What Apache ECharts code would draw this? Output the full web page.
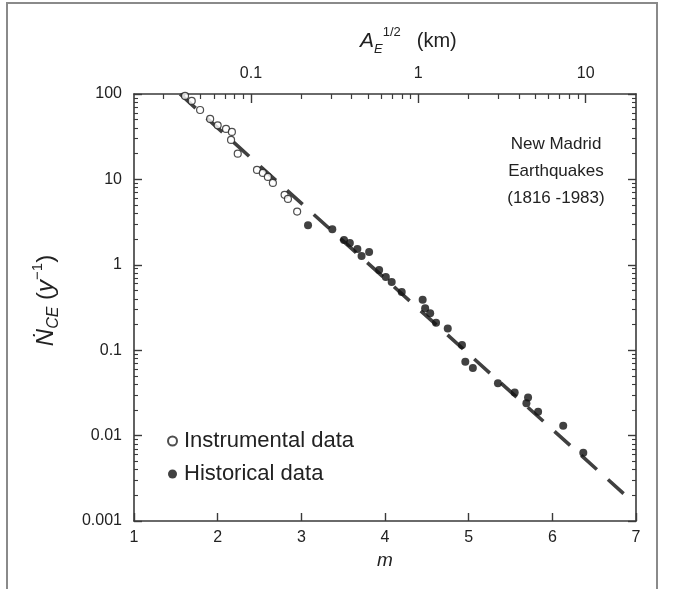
<!DOCTYPE html>
<html><head><meta charset="utf-8">
<script src="https://cdn.jsdelivr.net/npm/echarts@6/dist/echarts.min.js"></script>
<style>html,body{margin:0;padding:0;background:#fff}#c{width:682px;height:589px}</style>
</head><body><div id="c"></div>
<script>
// ---- data (m = magnitude, N = cumulative rate per year) ----
const instrumentalM = [1.61, 1.69, 1.79, 1.91, 2.00, 2.10, 2.17, 2.16, 2.24, 2.47, 2.54, 2.60, 2.66, 2.80, 2.84, 2.95];
const instrumentalN = [95, 83, 65, 51, 43, 39, 36, 29, 20, 12.9, 11.9, 10.7, 9.1, 6.6, 5.9, 4.2];
const historicalM = [3.08, 3.37, 3.51, 3.58, 3.67, 3.72, 3.81, 3.93, 4.01, 4.08, 4.20, 4.45, 4.48, 4.54, 4.61, 4.75, 4.92, 4.96, 5.05, 5.35, 5.55, 5.71, 5.69, 5.83, 6.13, 6.37];
const historicalN = [2.9, 2.6, 1.95, 1.8, 1.53, 1.27, 1.41, 0.87, 0.72, 0.63, 0.48, 0.39, 0.31, 0.27, 0.21, 0.18, 0.115, 0.073, 0.062, 0.041, 0.032, 0.028, 0.024, 0.019, 0.013, 0.0063];
const fitM = [1.55, 6.9];
const fitN = [100, 0.0019];
// ---- axes ----
const mTicks = [1, 2, 3, 4, 5, 6, 7];
const nTicks = [0.001, 0.01, 0.1, 1, 10, 100];
const aTicks = [0.1, 1, 10];
const mRange = [1, 7];
const nRange = [0.001, 100];
const aRange = [0.02, 20];

function minorLog(lo, hi) {
  const out = [];
  for (let d = Math.floor(Math.log10(lo)) ; d <= Math.ceil(Math.log10(hi)); d++) {
    for (let k = 2; k <= 9; k++) {
      const v = parseFloat((k * Math.pow(10, d)).toPrecision(3));
      if (v > lo * 1.0001 && v < hi * 0.9999) out.push(v);
    }
  }
  return out;
}
const fmt = v => String(parseFloat(Number(v).toPrecision(3)));
const zip = (a, b) => a.map((x, i) => [x, b[i]]);

const FONT = 'Liberation Sans, Arial, Helvetica, sans-serif';
const AX = '#3a3a3a';
const TXT = '#222';

const chart = echarts.init(document.getElementById('c'), null, {renderer: 'canvas'});
const lineStyle = {color: AX, width: 1.6};
chart.setOption({
  animation: false,
  backgroundColor: '#fff',
  grid: {left: 134, right: 46, top: 94, bottom: 68, containLabel: false},
  xAxis: [
    {type: 'value', position: 'bottom', min: mRange[0], max: mRange[1], interval: 1,
     axisLine: {show: true, lineStyle},
     axisTick: {show: true, inside: true, length: 8, lineStyle: {color: AX, width: 1.4}, customValues: mTicks},
     axisLabel: {fontFamily: FONT, fontSize: 16, color: TXT, margin: 9, customValues: mTicks},
     splitLine: {show: false},
     name: 'm', nameLocation: 'middle', nameGap: 25,
     nameTextStyle: {fontFamily: FONT, fontSize: 19, fontStyle: 'italic', color: TXT}},
    {type: 'log', position: 'top', logBase: 10, min: aRange[0], max: aRange[1],
     axisLine: {show: true, lineStyle},
     axisTick: {show: true, inside: true, length: 9, lineStyle: {color: AX, width: 1.4}, customValues: aTicks},
     axisLabel: {fontFamily: FONT, fontSize: 16, color: TXT, margin: 12, customValues: aTicks, formatter: fmt},
     splitLine: {show: false}},
    {type: 'log', position: 'top', logBase: 10, min: aRange[0], max: aRange[1],
     axisLine: {show: false},
     axisTick: {show: true, inside: true, length: 5, lineStyle: {color: AX, width: 1.2}, customValues: minorLog(aRange[0], aRange[1])},
     axisLabel: {show: false}, splitLine: {show: false}}
  ],
  yAxis: [
    {type: 'log', position: 'left', logBase: 10, min: nRange[0], max: nRange[1],
     axisLine: {show: true, lineStyle},
     axisTick: {show: true, inside: true, length: 8, lineStyle: {color: AX, width: 1.4}, customValues: nTicks},
     axisLabel: {fontFamily: FONT, fontSize: 16, color: TXT, margin: 12, customValues: nTicks, formatter: fmt},
     splitLine: {show: false},
     name: '{n|Ṅ}{sub|CE}{r| (}{n|y}{sup|−1}{r|)}', nameLocation: 'middle', nameGap: 72, nameRotate: 90,
     nameTextStyle: {fontFamily: FONT, fontSize: 24, color: TXT, padding: [0, 0, 0, 14],
       rich: {
         n: {fontFamily: FONT, fontSize: 24, fontStyle: 'italic', color: TXT, lineHeight: 32},
         r: {fontFamily: FONT, fontSize: 24, color: TXT, lineHeight: 32},
         sub: {fontFamily: FONT, fontSize: 16, fontStyle: 'italic', color: TXT, lineHeight: 16, verticalAlign: 'bottom'},
         sup: {fontFamily: FONT, fontSize: 15, color: TXT, lineHeight: 16, verticalAlign: 'top'}
       }}},
    {type: 'log', position: 'left', logBase: 10, min: nRange[0], max: nRange[1],
     axisLine: {show: false},
     axisTick: {show: true, inside: true, length: 4, lineStyle: {color: AX, width: 1.1}, customValues: minorLog(nRange[0], nRange[1])},
     axisLabel: {show: false}, splitLine: {show: false}},
    {type: 'log', position: 'right', logBase: 10, min: nRange[0], max: nRange[1],
     axisLine: {show: true, lineStyle},
     axisTick: {show: true, inside: true, length: 8, lineStyle: {color: AX, width: 1.4}, customValues: nTicks},
     axisLabel: {show: false}, splitLine: {show: false}},
    {type: 'log', position: 'right', logBase: 10, min: nRange[0], max: nRange[1],
     axisLine: {show: false},
     axisTick: {show: true, inside: true, length: 4, lineStyle: {color: AX, width: 1.1}, customValues: minorLog(nRange[0], nRange[1])},
     axisLabel: {show: false}, splitLine: {show: false}}
  ],
  legend: {
    data: ['Instrumental data', 'Historical data'],
    orient: 'vertical', left: 162, top: 425, itemGap: 11,
    itemWidth: 9, itemHeight: 9,
    textStyle: {fontFamily: FONT, fontSize: 22, color: TXT, padding: [0, 0, 0, 2]}
  },
  series: [
    {name: 'fit', type: 'line', xAxisIndex: 0, yAxisIndex: 0, data: zip(fitM, fitN),
     symbol: 'none', silent: true, z: 1,
     lineStyle: {color: '#404040', width: 3.6, type: [21, 15], cap: 'butt'}},
    {name: 'Instrumental data', type: 'scatter', xAxisIndex: 0, yAxisIndex: 0,
     data: zip(instrumentalM, instrumentalN), symbol: 'circle', symbolSize: 7, z: 3,
     itemStyle: {color: '#fff', borderColor: '#222', borderWidth: 1.2}},
    {name: 'Historical data', type: 'scatter', xAxisIndex: 0, yAxisIndex: 0,
     data: zip(historicalM, historicalN), symbol: 'circle', symbolSize: 8, z: 3,
     itemStyle: {color: '#111'}}
  ],
  graphic: [
    {type: 'rect', shape: {x: 7, y: 3, width: 650, height: 620}, silent: true,
     style: {fill: 'none', stroke: '#8a8a8a', lineWidth: 2}},
    {type: 'text', left: 360, top: 26, silent: true,
     style: {text: '{a|A}{sub|E}{sup|1/2}{r|(km)}', font: '20px ' + FONT, fill: TXT,
       rich: {
         a: {fontFamily: FONT, fontSize: 21, fontStyle: 'italic', fill: TXT, lineHeight: 30},
         r: {fontFamily: FONT, fontSize: 20, fill: TXT, lineHeight: 30, padding: [0, 0, 0, 16]},
         sub: {fontFamily: FONT, fontSize: 13, fontStyle: 'italic', fill: TXT, lineHeight: 14, verticalAlign: 'bottom'},
         sup: {fontFamily: FONT, fontSize: 13, fill: TXT, lineHeight: 14, verticalAlign: 'top'}
       }}},
    {type: 'text', x: 556, y: 131, silent: true,
     style: {text: 'New Madrid\nEarthquakes\n(1816 -1983)', font: '17px ' + FONT, fill: TXT,
       textAlign: 'center', lineHeight: 27}}
  ]
});
</script></body></html>
